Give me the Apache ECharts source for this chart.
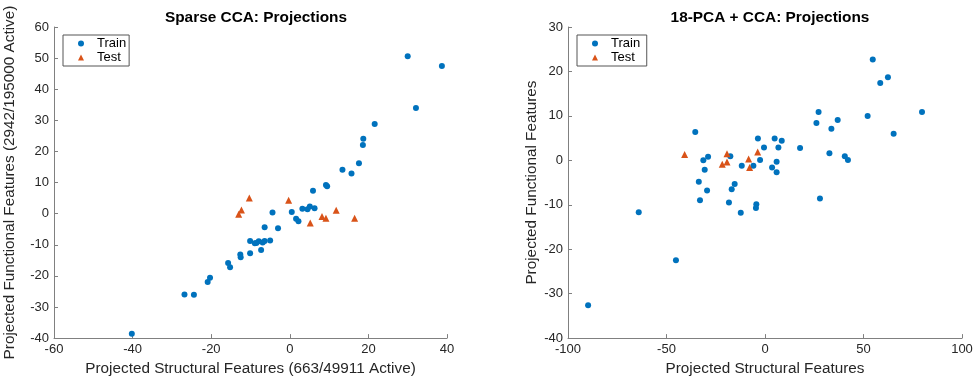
<!DOCTYPE html>
<html>
<head>
<meta charset="utf-8">
<script src="https://cdn.jsdelivr.net/npm/echarts@6/dist/echarts.min.js"></script>
<style>
  html, body { margin: 0; padding: 0; background: #fff; }
  #chart { width: 976px; height: 381px; }
</style>
</head>
<body>
<div id="chart"></div>
<script>
// left panel: sparse CCA projections, [structural, functional]
var sparseTrain = [
  [17.6, 16.2], [13.4, 14.1], [15.7, 12.9], [9.2, 9.2], [9.5, 8.8], [5.9, 7.4],
  [-4.4, 0.4], [0.5, 0.5], [3.2, 1.6], [4.5, 1.4], [5.1, 2.3], [6.3, 1.7],
  [1.6, -1.6], [2.2, -2.4], [-6.4, -4.4], [-3.0, -4.7], [-10.1, -8.8], [-8.9, -9.5],
  [-8.5, -9.4], [-7.9, -8.9], [-6.9, -9.3], [-6.4, -8.8], [-5.0, -8.6], [-7.3, -11.7],
  [-10.1, -12.7], [-12.6, -13.1], [-12.5, -14.0], [-15.7, -15.9], [-15.2, -17.2],
  [-20.3, -20.6], [-20.9, -22.0], [30.0, 50.6], [38.7, 47.5], [32.1, 34.0],
  [21.6, 28.8], [18.7, 24.1], [18.6, 22.1], [-40.2, -38.6], [-26.8, -26.0], [-24.4, -26.1]
];
var sparseTest = [
  [-10.3, 5.0], [-0.3, 4.3], [-12.3, 1.2], [-13.0, -0.2], [11.8, 1.1],
  [8.2, -0.9], [9.2, -1.5], [16.5, -1.5], [5.2, -3.0]
];

// right panel: 18-PCA + CCA projections
var pcaTrain = [
  [54.7, 22.7], [62.4, 18.7], [58.5, 17.4], [27.2, 10.9], [79.7, 10.9], [52.1, 10.0],
  [36.9, 9.1], [26.1, 8.4], [33.7, 7.1], [65.3, 6.0], [-3.6, 4.9], [4.9, 4.9],
  [8.5, 4.4], [-0.5, 2.9], [6.8, 2.9], [17.8, 2.8], [32.7, 1.6], [40.5, 0.9],
  [42.1, 0.1], [-17.6, 0.9], [-28.9, 0.8], [-31.3, 0.0], [-2.5, 0.1], [5.9, -0.3],
  [-11.8, -1.2], [-5.9, -1.2], [3.6, -1.6], [-30.6, -2.1], [5.9, -2.7], [-15.4, -5.3],
  [-33.6, -4.8], [-16.9, -6.5], [-29.4, -6.8], [-33.0, -9.0], [-18.3, -9.5], [-4.4, -9.9],
  [-4.6, -10.7], [27.9, -8.6], [-35.4, 6.4], [-64.1, -11.7], [-45.2, -22.5],
  [-89.8, -32.6], [-12.3, -11.8]
];
var pcaTest = [
  [-40.8, 1.3], [-19.3, 1.5], [-21.7, -0.9], [-19.3, -0.4], [-8.3, 0.3], [-3.7, 1.9], [-7.8, -1.6]
];

var titles = ['Sparse CCA: Projections', '18-PCA + CCA: Projections'];
var xNames = ['Projected Structural Features (663/49911 Active)', 'Projected Structural Features'];
var yNames = ['Projected Functional Features (2942/195000 Active)', 'Projected Functional Features'];
var xRanges = [[-60, 40, 20], [-100, 100, 50]];
var yRanges = [[-40, 60, 10], [-40, 30, 10]];

var blue = '#0072BD';
var orange = '#D95319';
var font = 'Liberation Sans, Arial, Helvetica, sans-serif';

function makeAxis(i, range, name, isX) {
  return {
    type: 'value',
    gridIndex: i,
    min: range[0],
    max: range[1],
    interval: range[2],
    name: name,
    nameLocation: 'middle',
    nameGap: isX ? 19 : (i === 0 ? 37 : 29),
    nameTextStyle: { color: '#262626', fontSize: 15.3, fontFamily: font },
    axisLine: { show: true, onZero: false, lineStyle: { color: '#808080', width: 1 } },
    axisTick: { show: true, inside: true, length: 4, lineStyle: { color: '#808080' } },
    axisLabel: { color: '#262626', fontSize: 13, fontFamily: font, margin: 5 },
    splitLine: { show: false }
  };
}

function legendFor(left) {
  return {
    orient: 'vertical',
    left: left,
    top: 35,
    padding: [2, 3, 2, 15],
    itemGap: 1,
    itemWidth: 6,
    itemHeight: 6,
    backgroundColor: '#fff',
    borderColor: '#555',
    borderWidth: 1,
    borderRadius: 0,
    textStyle: { fontSize: 13, fontFamily: font, color: '#000', padding: [0, 0, 0, 8], lineHeight: 13 }
  };
}

var chart = echarts.init(document.getElementById('chart'), null, { renderer: 'canvas' });

var option = {
  animation: false,
  backgroundColor: '#fff',
  title: [
    { text: titles[0], left: 251, top: 5, textAlign: 'center',
      textStyle: { fontSize: 15.4, fontWeight: 'bold', color: '#000', fontFamily: font } },
    { text: titles[1], left: 765, top: 5, textAlign: 'center',
      textStyle: { fontSize: 15.4, fontWeight: 'bold', color: '#000', fontFamily: font } }
  ],
  legend: [
    Object.assign(legendFor(63), { data: [{ name: 'Train', icon: 'circle' }, { name: 'Test', icon: 'triangle' }] }),
    Object.assign(legendFor(577), { data: [{ name: 'Train ', icon: 'circle' }, { name: 'Test ', icon: 'triangle' }] })
  ],
  grid: [
    { left: 54, right: 529, top: 27, bottom: 42 },
    { left: 568, right: 14, top: 27, bottom: 42 }
  ],
  xAxis: [
    makeAxis(0, xRanges[0], xNames[0], true),
    makeAxis(1, xRanges[1], xNames[1], true)
  ],
  yAxis: [
    makeAxis(0, yRanges[0], yNames[0], false),
    makeAxis(1, yRanges[1], yNames[1], false)
  ],
  series: [
    { name: 'Train', type: 'scatter', xAxisIndex: 0, yAxisIndex: 0, data: sparseTrain,
      symbol: 'circle', symbolSize: 6, itemStyle: { color: blue, opacity: 1 } },
    { name: 'Test', type: 'scatter', xAxisIndex: 0, yAxisIndex: 0, data: sparseTest,
      symbol: 'triangle', symbolSize: 7, itemStyle: { color: orange, opacity: 1 } },
    { name: 'Train ', type: 'scatter', xAxisIndex: 1, yAxisIndex: 1, data: pcaTrain,
      symbol: 'circle', symbolSize: 6, itemStyle: { color: blue, opacity: 1 } },
    { name: 'Test ', type: 'scatter', xAxisIndex: 1, yAxisIndex: 1, data: pcaTest,
      symbol: 'triangle', symbolSize: 7, itemStyle: { color: orange, opacity: 1 } }
  ]
};

chart.setOption(option);
</script>
</body>
</html>
